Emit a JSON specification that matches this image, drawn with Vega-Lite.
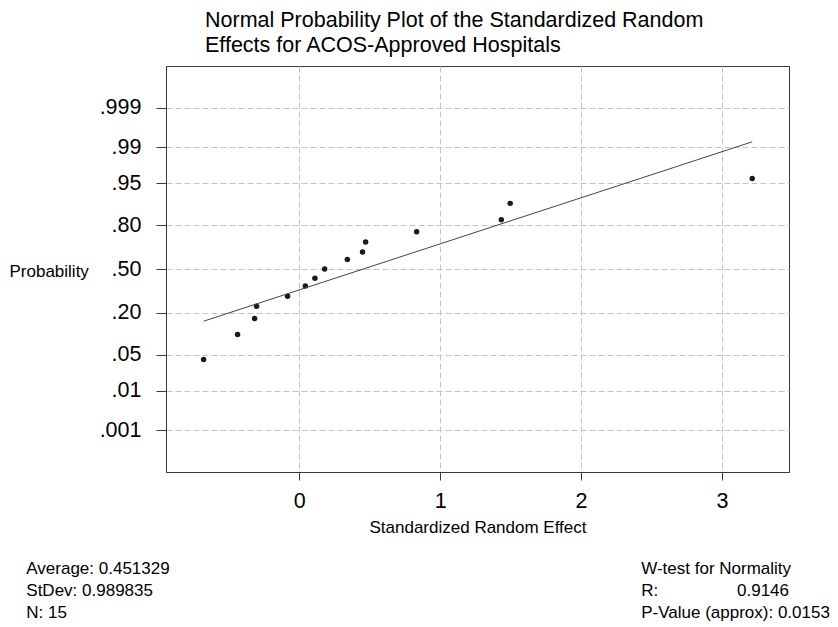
{
  "$schema": "https://vega.github.io/schema/vega-lite/v6.json",
  "width": 623,
  "height": 406,
  "autosize": {"type": "none"},
  "padding": {"left": 166, "top": 66, "right": 49, "bottom": 155},
  "background": "white",
  "config": {
    "font": "Liberation Sans",
    "view": {"stroke": "#3a3a3a", "strokeWidth": 1}
  },
  "title": {
    "text": ["Normal Probability Plot of the Standardized Random", "Effects for ACOS-Approved Hospitals"],
    "anchor": "start",
    "frame": "group",
    "dx": 39,
    "fontSize": 21.5,
    "fontWeight": "normal",
    "color": "#000000",
    "lineHeight": 25,
    "baseline": "bottom",
    "offset": -12
  },
  "layer": [
    {
      "data": {"values": [
        {"effect": -0.679, "z": -1.731},
        {"effect": -0.438, "z": -1.254},
        {"effect": -0.317, "z": -0.948},
        {"effect": -0.303, "z": -0.713},
        {"effect": -0.083, "z": -0.522},
        {"effect": 0.043, "z": -0.325},
        {"effect": 0.111, "z": -0.178},
        {"effect": 0.180, "z": 0.0},
        {"effect": 0.341, "z": 0.18},
        {"effect": 0.449, "z": 0.325},
        {"effect": 0.471, "z": 0.516},
        {"effect": 0.833, "z": 0.715},
        {"effect": 1.434, "z": 0.944},
        {"effect": 1.497, "z": 1.256},
        {"effect": 3.215, "z": 1.733}
      ]},
      "mark": {"type": "circle", "size": 30, "color": "#1a1a1a", "opacity": 1},
      "encoding": {
        "x": {
          "field": "effect", "type": "quantitative",
          "scale": {"domain": [-0.946, 3.476], "nice": false, "zero": false},
          "axis": {
            "values": [0, 1, 2, 3], "format": "d",
            "grid": true, "gridDash": [6, 3], "gridColor": "#c4c4c4", "gridWidth": 1,
            "domainColor": "#3a3a3a", "tickColor": "#3a3a3a", "tickSize": 8,
            "labelFontSize": 21.5, "labelColor": "#000000", "labelPadding": 10,
            "title": "Standardized Random Effect", "titleFontSize": 17,
            "titleFontWeight": "normal", "titleColor": "#000000", "titlePadding": 8
          }
        },
        "y": {
          "field": "z", "type": "quantitative",
          "scale": {"domain": [-3.885, 3.885], "nice": false, "zero": false},
          "axis": {
            "values": [-3.0902, -2.3263, -1.6449, -0.8416, 0, 0.8416, 1.6449, 2.3263, 3.0902],
            "labelExpr": "datum.value < -3 ? '.001' : datum.value < -2 ? '.01' : datum.value < -1 ? '.05' : datum.value < -0.5 ? '.20' : datum.value < 0.5 ? '.50' : datum.value < 1 ? '.80' : datum.value < 2 ? '.95' : datum.value < 3 ? '.99' : '.999'",
            "grid": true, "gridDash": [6, 3], "gridColor": "#c4c4c4", "gridWidth": 1,
            "domainColor": "#3a3a3a", "tickColor": "#3a3a3a", "tickSize": 10,
            "labelFontSize": 21.5, "labelColor": "#000000", "labelPadding": 15,
            "title": "Probability", "titleFontSize": 17, "titleFontWeight": "normal",
            "titleColor": "#000000", "titleAngle": 0, "titleAlign": "left",
            "titleBaseline": "alphabetic", "titleX": -157, "titleY": 210
          }
        }
      }
    },
    {
      "data": {"values": [
        {"effect": -0.679, "z": -0.999},
        {"effect": 3.215, "z": 2.434}
      ]},
      "mark": {"type": "line", "color": "#444444", "strokeWidth": 1},
      "encoding": {
        "x": {
          "field": "effect", "type": "quantitative",
          "scale": {"domain": [-0.946, 3.476], "nice": false, "zero": false},
          "axis": {
            "values": [0, 1, 2, 3], "format": "d",
            "grid": true, "gridDash": [6, 3], "gridColor": "#c4c4c4", "gridWidth": 1,
            "domainColor": "#3a3a3a", "tickColor": "#3a3a3a", "tickSize": 8,
            "labelFontSize": 21.5, "labelColor": "#000000", "labelPadding": 10,
            "title": "Standardized Random Effect", "titleFontSize": 17,
            "titleFontWeight": "normal", "titleColor": "#000000", "titlePadding": 8
          }
        },
        "y": {
          "field": "z", "type": "quantitative",
          "scale": {"domain": [-3.885, 3.885], "nice": false, "zero": false},
          "axis": {
            "values": [-3.0902, -2.3263, -1.6449, -0.8416, 0, 0.8416, 1.6449, 2.3263, 3.0902],
            "labelExpr": "datum.value < -3 ? '.001' : datum.value < -2 ? '.01' : datum.value < -1 ? '.05' : datum.value < -0.5 ? '.20' : datum.value < 0.5 ? '.50' : datum.value < 1 ? '.80' : datum.value < 2 ? '.95' : datum.value < 3 ? '.99' : '.999'",
            "grid": true, "gridDash": [6, 3], "gridColor": "#c4c4c4", "gridWidth": 1,
            "domainColor": "#3a3a3a", "tickColor": "#3a3a3a", "tickSize": 10,
            "labelFontSize": 21.5, "labelColor": "#000000", "labelPadding": 15,
            "title": "Probability", "titleFontSize": 17, "titleFontWeight": "normal",
            "titleColor": "#000000", "titleAngle": 0, "titleAlign": "left",
            "titleBaseline": "alphabetic", "titleX": -157, "titleY": 210
          }
        }
      }
    },
    {
      "data": {"values": [
        {"note": "Average: 0.451329\nStDev: 0.989835\nN: 15"}
      ]},
      "mark": {"type": "text", "align": "left", "baseline": "alphabetic", "fontSize": 17, "lineHeight": 22, "lineBreak": "\n", "color": "#000000"},
      "encoding": {
        "x": {
          "datum": -1.9375, "type": "quantitative",
          "scale": {"domain": [-0.946, 3.476], "nice": false, "zero": false},
          "axis": {
            "values": [0, 1, 2, 3], "format": "d",
            "grid": true, "gridDash": [6, 3], "gridColor": "#c4c4c4", "gridWidth": 1,
            "domainColor": "#3a3a3a", "tickColor": "#3a3a3a", "tickSize": 8,
            "labelFontSize": 21.5, "labelColor": "#000000", "labelPadding": 10,
            "title": "Standardized Random Effect", "titleFontSize": 17,
            "titleFontWeight": "normal", "titleColor": "#000000", "titlePadding": 8
          }
        },
        "y": {
          "datum": -5.834, "type": "quantitative",
          "scale": {"domain": [-3.885, 3.885], "nice": false, "zero": false},
          "axis": {
            "values": [-3.0902, -2.3263, -1.6449, -0.8416, 0, 0.8416, 1.6449, 2.3263, 3.0902],
            "labelExpr": "datum.value < -3 ? '.001' : datum.value < -2 ? '.01' : datum.value < -1 ? '.05' : datum.value < -0.5 ? '.20' : datum.value < 0.5 ? '.50' : datum.value < 1 ? '.80' : datum.value < 2 ? '.95' : datum.value < 3 ? '.99' : '.999'",
            "grid": true, "gridDash": [6, 3], "gridColor": "#c4c4c4", "gridWidth": 1,
            "domainColor": "#3a3a3a", "tickColor": "#3a3a3a", "tickSize": 10,
            "labelFontSize": 21.5, "labelColor": "#000000", "labelPadding": 15,
            "title": "Probability", "titleFontSize": 17, "titleFontWeight": "normal",
            "titleColor": "#000000", "titleAngle": 0, "titleAlign": "left",
            "titleBaseline": "alphabetic", "titleX": -157, "titleY": 210
          }
        },
        "text": {"field": "note"}
      }
    },
    {
      "data": {"values": [
        {"note": "W-test for Normality\nR:\nP-Value (approx): 0.0153"}
      ]},
      "mark": {"type": "text", "align": "left", "baseline": "alphabetic", "fontSize": 17, "lineHeight": 22, "lineBreak": "\n", "color": "#000000"},
      "encoding": {
        "x": {
          "datum": 2.427, "type": "quantitative",
          "scale": {"domain": [-0.946, 3.476], "nice": false, "zero": false},
          "axis": {
            "values": [0, 1, 2, 3], "format": "d",
            "grid": true, "gridDash": [6, 3], "gridColor": "#c4c4c4", "gridWidth": 1,
            "domainColor": "#3a3a3a", "tickColor": "#3a3a3a", "tickSize": 8,
            "labelFontSize": 21.5, "labelColor": "#000000", "labelPadding": 10,
            "title": "Standardized Random Effect", "titleFontSize": 17,
            "titleFontWeight": "normal", "titleColor": "#000000", "titlePadding": 8
          }
        },
        "y": {
          "datum": -5.834, "type": "quantitative",
          "scale": {"domain": [-3.885, 3.885], "nice": false, "zero": false},
          "axis": {
            "values": [-3.0902, -2.3263, -1.6449, -0.8416, 0, 0.8416, 1.6449, 2.3263, 3.0902],
            "labelExpr": "datum.value < -3 ? '.001' : datum.value < -2 ? '.01' : datum.value < -1 ? '.05' : datum.value < -0.5 ? '.20' : datum.value < 0.5 ? '.50' : datum.value < 1 ? '.80' : datum.value < 2 ? '.95' : datum.value < 3 ? '.99' : '.999'",
            "grid": true, "gridDash": [6, 3], "gridColor": "#c4c4c4", "gridWidth": 1,
            "domainColor": "#3a3a3a", "tickColor": "#3a3a3a", "tickSize": 10,
            "labelFontSize": 21.5, "labelColor": "#000000", "labelPadding": 15,
            "title": "Probability", "titleFontSize": 17, "titleFontWeight": "normal",
            "titleColor": "#000000", "titleAngle": 0, "titleAlign": "left",
            "titleBaseline": "alphabetic", "titleX": -157, "titleY": 210
          }
        },
        "text": {"field": "note"}
      }
    },
    {
      "data": {"values": [
        {"note": "0.9146"}
      ]},
      "mark": {"type": "text", "align": "right", "baseline": "alphabetic", "fontSize": 17, "color": "#000000"},
      "encoding": {
        "x": {
          "datum": 3.476, "type": "quantitative",
          "scale": {"domain": [-0.946, 3.476], "nice": false, "zero": false},
          "axis": {
            "values": [0, 1, 2, 3], "format": "d",
            "grid": true, "gridDash": [6, 3], "gridColor": "#c4c4c4", "gridWidth": 1,
            "domainColor": "#3a3a3a", "tickColor": "#3a3a3a", "tickSize": 8,
            "labelFontSize": 21.5, "labelColor": "#000000", "labelPadding": 10,
            "title": "Standardized Random Effect", "titleFontSize": 17,
            "titleFontWeight": "normal", "titleColor": "#000000", "titlePadding": 8
          }
        },
        "y": {
          "datum": -6.2545, "type": "quantitative",
          "scale": {"domain": [-3.885, 3.885], "nice": false, "zero": false},
          "axis": {
            "values": [-3.0902, -2.3263, -1.6449, -0.8416, 0, 0.8416, 1.6449, 2.3263, 3.0902],
            "labelExpr": "datum.value < -3 ? '.001' : datum.value < -2 ? '.01' : datum.value < -1 ? '.05' : datum.value < -0.5 ? '.20' : datum.value < 0.5 ? '.50' : datum.value < 1 ? '.80' : datum.value < 2 ? '.95' : datum.value < 3 ? '.99' : '.999'",
            "grid": true, "gridDash": [6, 3], "gridColor": "#c4c4c4", "gridWidth": 1,
            "domainColor": "#3a3a3a", "tickColor": "#3a3a3a", "tickSize": 10,
            "labelFontSize": 21.5, "labelColor": "#000000", "labelPadding": 15,
            "title": "Probability", "titleFontSize": 17, "titleFontWeight": "normal",
            "titleColor": "#000000", "titleAngle": 0, "titleAlign": "left",
            "titleBaseline": "alphabetic", "titleX": -157, "titleY": 210
          }
        },
        "text": {"field": "note"}
      }
    }
  ]
}
